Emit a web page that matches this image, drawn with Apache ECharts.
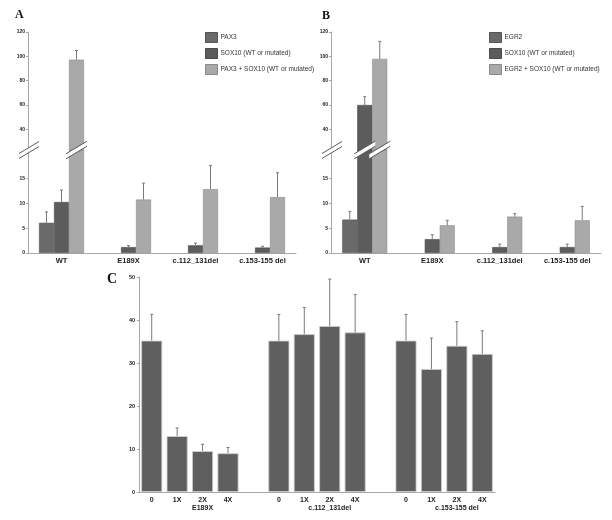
<!DOCTYPE html>
<html><head><meta charset="utf-8">
<script src="https://cdn.jsdelivr.net/npm/echarts@6.0.0/dist/echarts.min.js"></script>
<style>html,body{margin:0;padding:0;background:#fff}#c{width:612px;height:520px}</style>
</head><body><div id="c"></div>
<script>
// ---------- data ----------
const AB_CATEGORIES = ['WT', 'E189X', 'c.112_131del', 'c.153-155 del'];
const AB_LOWER_TICKS = [0, 5, 10, 15];
const AB_UPPER_TICKS = [40, 60, 80, 100, 120];

const A_NAMES = ['PAX3', 'SOX10 (WT or mutated)', 'PAX3 + SOX10 (WT or mutated)'];
const A_PAX3 = [6.1, null, null, null];
const A_PAX3_ERR = [8.3, null, null, null];
const A_SOX10 = [10.3, 1.2, 1.55, 1.1];
const A_SOX10_ERR = [12.7, 1.5, 2.0, 1.35];
const A_COMBO = [97.3, 10.8, 12.9, 11.3];
const A_COMBO_ERR = [104.8, 14.1, 17.7, 16.2];

const B_NAMES = ['EGR2', 'SOX10 (WT or mutated)', 'EGR2 + SOX10 (WT or mutated)'];
const B_EGR2 = [6.75, null, null, null];
const B_EGR2_ERR = [8.4, null, null, null];
const B_SOX10 = [60.0, 2.8, 1.2, 1.2];
const B_SOX10_ERR = [66.8, 3.7, 1.8, 1.8];
const B_COMBO = [97.9, 5.6, 7.35, 6.6];
const B_COMBO_ERR = [112.3, 6.6, 7.95, 9.4];

const C_GROUPS = ['E189X', 'c.112_131del', 'c.153-155 del'];
const C_DOSES = ['0', '1X', '2X', '4X'];
const C_TICKS = [0, 10, 20, 30, 40, 50];
const C_E189X = [35.2, 13.0, 9.5, 9.0];
const C_E189X_ERR = [41.3, 14.9, 11.1, 10.35];
const C_C112 = [35.2, 36.7, 38.6, 37.1];
const C_C112_ERR = [41.3, 42.9, 49.5, 45.9];
const C_C153 = [35.2, 28.6, 34.0, 32.1];
const C_C153_ERR = [41.3, 35.8, 39.6, 37.5];

// ---------- styling ----------
const LOWER_MAX = 20.8;
const UPPER_MIN = 23;
const BAR_W = 15;
const C_BAR_W = 21;
const COLORS = ['#6a6a6a', '#5c5c5c', '#a9a9a9'];
const BORDERS = ['#555', '#4a4a4a', '#8a8a8a'];
const AXIS_COLOR = '#a8a8a8';
const ERR_COLOR = '#7a7a7a';

function errSeries(xi, yi, pos, n, barW, data) {
  return {
    type: 'custom', xAxisIndex: xi, yAxisIndex: yi, data: data, silent: true, z: 5,
    renderItem: function (params, api) {
      const c = api.coord([api.value(0), api.value(1)]);
      const t = api.coord([api.value(0), api.value(2)]);
      const x = c[0] + (pos - (n - 1) / 2) * barW;
      return {
        type: 'group', children: [
          { type: 'line', shape: { x1: x, y1: c[1], x2: x, y2: t[1] }, style: { stroke: ERR_COLOR, lineWidth: 1 } },
          { type: 'line', shape: { x1: x - 1.5, y1: t[1], x2: x + 1.5, y2: t[1] }, style: { stroke: ERR_COLOR, lineWidth: 1 } }
        ]
      };
    }
  };
}
function errData(vals, errs, keep) {
  const out = [];
  vals.forEach(function (v, i) { if (v != null && errs[i] != null && keep(v)) out.push([i, v, errs[i]]); });
  return out;
}

function abPanel(upX, upY, loX, loY, names, vals, errs) {
  const s = [];
  for (let k = 0; k < 3; k++) {
    const st = { color: COLORS[k], borderColor: BORDERS[k], borderWidth: 0.6 };
    s.push({ type: 'bar', name: names[k], xAxisIndex: loX, yAxisIndex: loY, data: vals[k],
      barWidth: BAR_W, barGap: '0%', itemStyle: st, clip: true, silent: true });
    s.push({ type: 'bar', name: names[k], xAxisIndex: upX, yAxisIndex: upY,
      data: vals[k].map(function (v) { return v != null && v > UPPER_MIN ? v : null; }),
      barWidth: BAR_W, barGap: '0%', itemStyle: st, clip: true, silent: true });
    s.push(errSeries(loX, loY, k, 3, BAR_W, errData(vals[k], errs[k], function (v) { return v < LOWER_MAX; })));
    s.push(errSeries(upX, upY, k, 3, BAR_W, errData(vals[k], errs[k], function (v) { return v > UPPER_MIN; })));
  }
  return s;
}

// panel C categories built from groups/doses with gap slots
const C_CATS = [];
const C_VALUES = [];
const C_ERRS = [];
const C_GROUP_VALS = [C_E189X, C_C112, C_C153];
const C_GROUP_ERRS = [C_E189X_ERR, C_C112_ERR, C_C153_ERR];
C_GROUPS.forEach(function (g, gi) {
  C_DOSES.forEach(function (d, di) {
    C_CATS.push(g + '|' + d);
    C_VALUES.push(C_GROUP_VALS[gi][di]);
    C_ERRS.push(C_GROUP_ERRS[gi][di]);
  });
  if (gi < C_GROUPS.length - 1) { C_CATS.push('gap' + gi); C_VALUES.push(null); C_ERRS.push(null); }
});
const C_GROUP_CENTERS = C_GROUPS.map(function (g, gi) { return gi * (C_DOSES.length + 1) + C_DOSES.length / 2; });

const labelFont = { fontFamily: 'Liberation Sans', fontWeight: 'bold', color: '#222' };

function abXAxis(grid) {
  return [
    { gridIndex: grid, type: 'category', data: AB_CATEGORIES, show: false },
    { gridIndex: grid + 1, type: 'category', data: AB_CATEGORIES,
      axisLine: { lineStyle: { color: AXIS_COLOR } },
      axisTick: { length: 2, lineStyle: { color: AXIS_COLOR } },
      axisLabel: Object.assign({ fontSize: 7.5, margin: 4, interval: 0 }, labelFont) }
  ];
}
function abYAxis(grid) {
  return [
    { gridIndex: grid, type: 'value', min: UPPER_MIN, max: 120,
      axisLine: { show: true, lineStyle: { color: AXIS_COLOR } },
      axisTick: { show: true, length: 2, customValues: AB_UPPER_TICKS, lineStyle: { color: AXIS_COLOR } },
      axisLabel: Object.assign({ customValues: AB_UPPER_TICKS, fontSize: 5, margin: 3 }, labelFont),
      splitLine: { show: false } },
    { gridIndex: grid + 1, type: 'value', min: 0, max: LOWER_MAX,
      axisLine: { show: true, lineStyle: { color: AXIS_COLOR } },
      axisTick: { show: true, length: 2, customValues: AB_LOWER_TICKS, lineStyle: { color: AXIS_COLOR } },
      axisLabel: Object.assign({ customValues: AB_LOWER_TICKS, fontSize: 5, margin: 3 }, labelFont),
      splitLine: { show: false } }
  ];
}

const legendBase = { orient: 'vertical', top: 32, itemWidth: 12, itemHeight: 10, itemGap: 5, icon: 'rect',
  selectedMode: false, padding: 0, itemStyle: { borderWidth: 1 },
  textStyle: { fontSize: 6.5, color: '#333', fontFamily: 'Liberation Sans', padding: [0, 0, 0, -2] } };

const option = {
  backgroundColor: '#ffffff',
  animation: false,
  title: [
    { text: 'A', left: 15, top: 9, padding: 0, textStyle: { fontFamily: 'Liberation Serif', fontWeight: 'bold', fontSize: 12, color: '#111' } },
    { text: 'B', left: 322, top: 10, padding: 0, textStyle: { fontFamily: 'Liberation Serif', fontWeight: 'bold', fontSize: 12, color: '#111' } },
    { text: 'C', left: 107, top: 272, padding: 0, textStyle: { fontFamily: 'Liberation Serif', fontWeight: 'bold', fontSize: 14, color: '#111' } }
  ],
  legend: [
    Object.assign({}, legendBase, { left: 205, data: A_NAMES }),
    Object.assign({}, legendBase, { left: 489, data: B_NAMES })
  ],
  grid: [
    { left: 28, top: 32, width: 268, height: 118, outerBoundsMode: 'none' },
    { left: 28, top: 150, width: 268, height: 103, outerBoundsMode: 'none' },
    { left: 331, top: 32, width: 270, height: 118, outerBoundsMode: 'none' },
    { left: 331, top: 150, width: 270, height: 103, outerBoundsMode: 'none' },
    { left: 139, top: 277, width: 356, height: 215, outerBoundsMode: 'none' }
  ],
  xAxis: abXAxis(0).concat(abXAxis(2)).concat([
    { gridIndex: 4, type: 'category', data: C_CATS,
      axisLine: { lineStyle: { color: AXIS_COLOR } },
      axisTick: { length: 2, lineStyle: { color: AXIS_COLOR } },
      axisLabel: Object.assign({ fontSize: 7, margin: 5, interval: 0,
        formatter: function (v) { return v.indexOf('|') >= 0 ? v.split('|')[1] : ''; } }, labelFont) },
    { gridIndex: 4, type: 'value', position: 'bottom', offset: 9, min: 0, max: C_CATS.length,
      axisLine: { show: false }, axisTick: { show: false }, splitLine: { show: false },
      axisLabel: Object.assign({ fontSize: 7, margin: 4, customValues: C_GROUP_CENTERS.map(function (c) { return c + 0.5; }),
        formatter: function (v) { const i = C_GROUP_CENTERS.findIndex(function (c) { return Math.abs(c + 0.5 - v) < 0.01; }); return i >= 0 ? C_GROUPS[i] : ''; } }, labelFont) }
  ]),
  yAxis: abYAxis(0).concat(abYAxis(2)).concat([
    { gridIndex: 4, type: 'value', min: 0, max: 50, interval: 10,
      axisLine: { show: true, lineStyle: { color: AXIS_COLOR } },
      axisTick: { show: true, length: 2, lineStyle: { color: AXIS_COLOR } },
      axisLabel: Object.assign({ fontSize: 5.5, margin: 4, customValues: C_TICKS }, labelFont),
      splitLine: { show: false } }
  ]),
  series: abPanel(0, 0, 1, 1, A_NAMES, [A_PAX3, A_SOX10, A_COMBO], [A_PAX3_ERR, A_SOX10_ERR, A_COMBO_ERR])
    .concat(abPanel(2, 2, 3, 3, B_NAMES, [B_EGR2, B_SOX10, B_COMBO], [B_EGR2_ERR, B_SOX10_ERR, B_COMBO_ERR]))
    .concat([
      { type: 'bar', name: 'C', xAxisIndex: 4, yAxisIndex: 4, data: C_VALUES, barWidth: C_BAR_W,
        itemStyle: { color: '#5f5f5f', borderColor: '#cfcfcf', borderWidth: 0.8 }, silent: true },
      errSeries(4, 4, 0, 1, C_BAR_W, errData(C_VALUES, C_ERRS, function () { return true; }))
    ])
};

const chart = echarts.init(document.getElementById('c'));
chart.setOption(option);

// ---------- axis-break marks, placed from the chart's own scales ----------
const graphics = [];
function addBreak(cx, cy, hw) {
  const slope = 0.6, gap = 5;
  const dy = slope * hw;
  graphics.push({ type: 'polygon', z: 100, silent: true,
    shape: { points: [[cx - hw, cy - gap / 2 + dy], [cx + hw, cy - gap / 2 - dy], [cx + hw, cy + gap / 2 - dy], [cx - hw, cy + gap / 2 + dy]] },
    style: { fill: '#ffffff' } });
  [-gap / 2, gap / 2].forEach(function (o) {
    graphics.push({ type: 'line', z: 101, silent: true,
      shape: { x1: cx - hw, y1: cy + o + dy, x2: cx + hw, y2: cy + o - dy },
      style: { stroke: '#5a5a5a', lineWidth: 1 } });
  });
}
function panelBreaks(loX, loY, vals) {
  const p0 = chart.convertToPixel({ xAxisIndex: loX, yAxisIndex: loY }, [0, 0]);
  const p1 = chart.convertToPixel({ xAxisIndex: loX, yAxisIndex: loY }, [1, LOWER_MAX]);
  const catW = p1[0] - p0[0];
  const yBreak = p1[1];
  addBreak(p0[0] - catW / 2 + 1, yBreak, 10);
  vals.forEach(function (arr, k) {
    arr.forEach(function (v, i) {
      if (v != null && v > LOWER_MAX) {
        const c = chart.convertToPixel({ xAxisIndex: loX, yAxisIndex: loY }, [i, 0]);
        addBreak(c[0] + (k - 1) * BAR_W, yBreak, BAR_W / 2 + 3);
      }
    });
  });
}
panelBreaks(1, 1, [A_PAX3, A_SOX10, A_COMBO]);
panelBreaks(3, 3, [B_EGR2, B_SOX10, B_COMBO]);
chart.setOption({ graphic: graphics });
</script>
</body></html>
